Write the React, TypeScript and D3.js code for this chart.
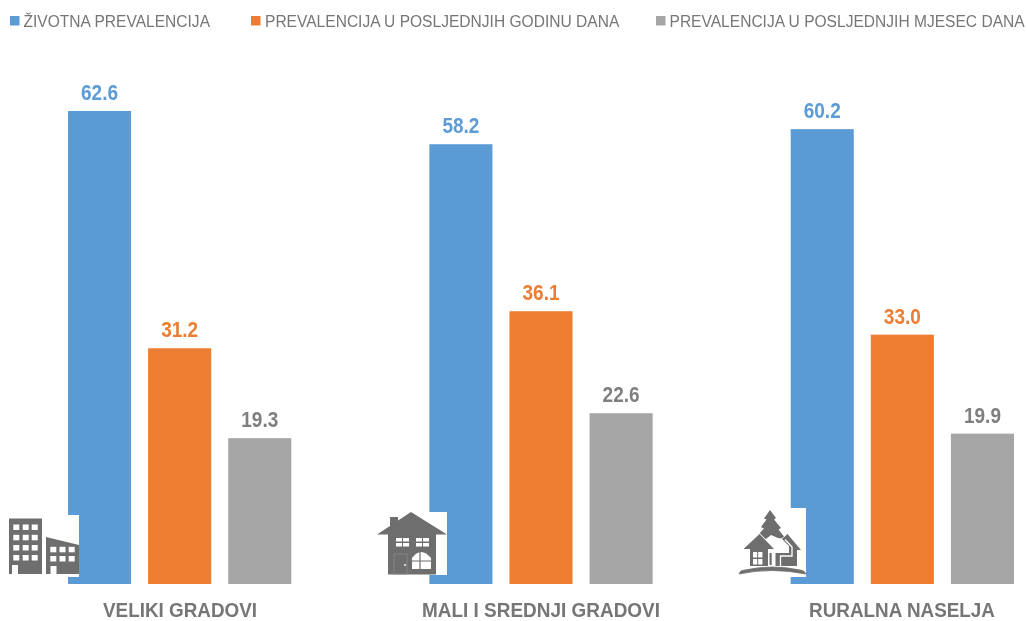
import React from "react";
import * as d3 from "d3";

const categories = ["VELIKI GRADOVI", "MALI I SREDNJI GRADOVI", "RURALNA NASELJA"];
const seriesNames = ["ŽIVOTNA PREVALENCIJA", "PREVALENCIJA U POSLJEDNJIH GODINU DANA", "PREVALENCIJA U POSLJEDNJIH MJESEC DANA"];
const lifetime = [62.6, 58.2, 60.2];
const lastYear = [31.2, 36.1, 33.0];
const lastMonth = [19.3, 22.6, 19.9];
const seriesValues = [lifetime, lastYear, lastMonth];
const colors = ["#5B9BD5", "#ED7D31", "#A5A5A5"];
const labelColors = ["#5B9BD5", "#ED7D31", "#7F7F7F"];
const legendX = [10, 251, 656];
const legendTextX = [23.5, 265, 669.5];
const legendScaleX = 0.944;
const catLabelCx = [180, 541, 902];
const catLabelW = [154, 238, 186];

const GREY = "#6E6E6E";

function CityIcon() {
  const win = (xs: number[], ys: number[]) =>
    ys.flatMap((wy) =>
      xs.map((wx) => <rect key={`${wx}-${wy}`} x={wx} y={wy} width={6} height={5.5} fill="#fff" />)
    );
  return (
    <g>
      <rect x={68} y={515} width={11} height={62} fill="#fff" />
      <path fill={GREY} d="M9 518.5H42V574H18V565H12V574H9Z" />
      <path fill={GREY} d="M46 537L79 545V574H56.5V566H50.5V574H46Z" />
      {win([13.3, 22.7, 31.7], [524.5, 534.8, 545, 555])}
      {win([50.3, 59.5, 68.7], [546.8, 556])}
    </g>
  );
}

function HouseIcon() {
  return (
    <g>
      <rect x={429} y={512} width={18} height={63} fill="#fff" />
      <path fill={GREY} d="M411 512L447 534.5H436V574.5H388V534.5H377L390 526V517H398V520.5Z" />
      <g fill="#fff">
        <rect x={396} y={538} width={6} height={3.5} />
        <rect x={403} y={538} width={6} height={3.5} />
        <rect x={396} y={543} width={6} height={3.5} />
        <rect x={403} y={543} width={6} height={3.5} />
        <rect x={416} y={538} width={6} height={3.5} />
        <rect x={423} y={538} width={6} height={3.5} />
        <rect x={416} y={543} width={6} height={3.5} />
        <rect x={423} y={543} width={6} height={3.5} />
        <path d="M412 558Q421 546 431 558V569H412Z" />
      </g>
      <path d="M420 552V569M412 561H431" stroke={GREY} strokeWidth={1.2} fill="none" />
      <rect x={394} y={554} width={13} height={20} fill="none" stroke="#8a8a8a" strokeWidth={0.8} />
      <circle cx={405} cy={565} r={0.9} fill="#fff" />
    </g>
  );
}

function RuralIcon() {
  return (
    <g>
      <rect x={790} y={508} width={16} height={69} fill="#fff" />
      {/* tree */}
      <path fill={GREY} d="M770 510L776 518L774 519.5L781 528L778.5 529.5L786 539L778 538L771 535L766 539L758 535L764 528.5L761 527L766.5 519.5L764 518.5Z" />
      {/* left house */}
      <path fill={GREY} stroke="#fff" strokeWidth={1.6} paintOrder="stroke"
        d="M759.5 534L774 549L768 549V566H750V549H743.5Z" />
      {/* right house */}
      <path fill={GREY} stroke="#fff" strokeWidth={1.2} paintOrder="stroke" d="M787.5 534L801 550H797V566H775.5V553H789V546L782 539Z" />
      <path fill="none" stroke="#fff" strokeWidth={1.3} d="M780.5 566V556H792V547L785 539.5" />
      {/* trunk strip */}
      <rect x={769.5} y={553} width={2.2} height={12} fill={GREY} />
      {/* ground */}
      <path fill={GREY} d="M739 574Q740 570 745 570Q772 564 800 570Q804 570 806 574Q772 567 739 574Z" stroke={GREY} strokeWidth={0.8} />
      <g fill="#fff">
        <rect x={753} y={552} width={4.2} height={5.5} />
        <rect x={758.2} y={552} width={4.2} height={5.5} />
        <rect x={753} y={559} width={4.2} height={5.5} />
        <rect x={758.2} y={559} width={4.2} height={5.5} />
      </g>
    </g>
  );
}

export default function App() {
  const x0 = d3.scaleBand<string>().domain(categories).range([68, 1014]).paddingInner(0.382);
  const x1 = d3.scaleBand<number>().domain([0, 1, 2]).range([0, x0.bandwidth()]).paddingInner(0.2125);
  const y = d3.scaleLinear().domain([0, 62.6]).range([584, 111]);

  return (
    <svg width={1027} height={621} viewBox="0 0 1027 621"
      style={{ position: "absolute", left: 0, top: 0, background: "#fff" }}
      fontFamily="'Liberation Sans', Arial, sans-serif">
      <defs>
        <filter id="soft" x="-5%" y="-20%" width="110%" height="140%">
          <feGaussianBlur stdDeviation={0.45} />
        </filter>
      </defs>
      <g filter="url(#soft)">
        {seriesNames.map((s, i) => (
          <g key={s}>
            <rect x={legendX[i]} y={16} width={9.5} height={9.5} fill={colors[i]} />
            <text transform={`translate(${legendTextX[i]},27) scale(${legendScaleX},1)`} fontSize={16.5} fill="#767676">{s}</text>
          </g>
        ))}
      </g>
      {categories.map((c, ci) => (
        <g key={c}>
          {seriesValues.map((vals, si) => {
            const bx = (x0(c) as number) + (x1(si) as number);
            return (
              <g key={si}>
                <rect x={bx} y={y(vals[ci])} width={x1.bandwidth()} height={y(0) - y(vals[ci])} fill={colors[si]} />
                <g filter="url(#soft)">
                  <text x={bx + x1.bandwidth() / 2} y={y(vals[ci]) - 11} textAnchor="middle" fontSize={22.5}
                    fontWeight={700} fill={labelColors[si]} textLength={37} lengthAdjust="spacingAndGlyphs">
                    {d3.format(".1f")(vals[ci])}
                  </text>
                </g>
              </g>
            );
          })}
          <g filter="url(#soft)">
            <text x={catLabelCx[ci]} y={616.8} textAnchor="middle" fontSize={19.5} fontWeight={700} fill="#767676"
              textLength={catLabelW[ci]} lengthAdjust="spacingAndGlyphs">{c}</text>
          </g>
        </g>
      ))}
      <g filter="url(#soft)">
        <CityIcon />
        <HouseIcon />
        <RuralIcon />
      </g>
    </svg>
  );
}
